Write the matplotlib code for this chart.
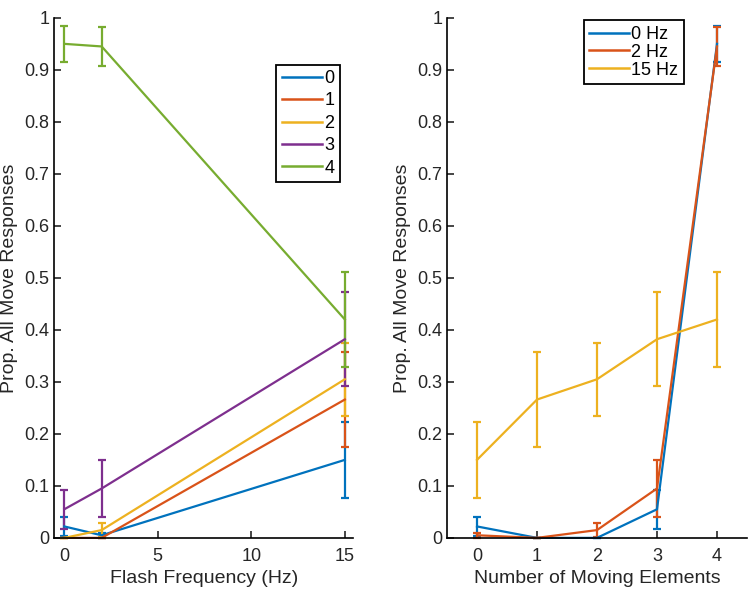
import numpy as np
import matplotlib
matplotlib.use("Agg")
import matplotlib.pyplot as plt
from matplotlib.lines import Line2D

plt.rcParams["font.family"] = ["Liberation Sans", "DejaVu Sans"]

# flash frequencies (Hz) and number of moving elements
freqs = [0, 2, 15]
n_moving = [0, 1, 2, 3, 4]

# proportion of "all move" responses, rows = frequency, cols = moving elements
prop_0hz = [0.022, 0.0, 0.0, 0.055, 0.95]
prop_2hz = [0.005, 0.0, 0.015, 0.095, 0.945]
prop_15hz = [0.15, 0.266, 0.305, 0.382, 0.42]

err_0hz = [0.018, 0.0, 0.0, 0.038, 0.035]
err_2hz = [0.005, 0.0, 0.013, 0.055, 0.037]
err_15hz = [0.073, 0.091, 0.07, 0.09, 0.091]

freq_labels = ["0 Hz", "2 Hz", "15 Hz"]
elem_labels = ["0", "1", "2", "3", "4"]

colors = ["#0072BD", "#D95319", "#EDB120", "#7E2F8E", "#77AC30"]

props = np.array([prop_0hz, prop_2hz, prop_15hz])
errs = np.array([err_0hz, err_2hz, err_15hz])

txt = "#262626"


def matlab_style(ax):
    ax.spines["top"].set_visible(False)
    ax.spines["right"].set_visible(False)
    for s in ("left", "bottom"):
        ax.spines[s].set_linewidth(1.2)
    ax.tick_params(direction="in", length=5, width=1.2, labelsize=13, colors=txt)
    ax.tick_params(axis="x", pad=7)
    ax.set_ylim(0, 1)
    ax.set_yticks(np.arange(0, 1.01, 0.1))
    ax.set_yticklabels(["0"] + ["%.1f" % v for v in np.arange(0.1, 0.95, 0.1)] + ["1"])
    ax.set_ylabel("Prop. All Move Responses", fontsize=14, color=txt)


def add_legend(ax, labels, anchor, loc, spacing):
    handles = [Line2D([], [], color=colors[k], lw=1.8) for k in range(len(labels))]
    leg = ax.legend(handles, labels, loc=loc, bbox_to_anchor=anchor, fontsize=13,
                    fancybox=False, edgecolor="black", framealpha=1,
                    handlelength=2.2, handletextpad=0.15, borderpad=0.3,
                    labelspacing=spacing, borderaxespad=0)
    leg.get_frame().set_linewidth(1.3)


fig = plt.figure(figsize=(7.5, 5.95), dpi=100)
ax1 = fig.add_axes([0.072, 0.096, 0.399, 0.874])
ax2 = fig.add_axes([0.596, 0.096, 0.400, 0.874])

# left: responses vs flash frequency, one line per number of moving elements
for j, lab in enumerate(elem_labels):
    ax1.errorbar(freqs, props[:, j], yerr=errs[:, j], color=colors[j], lw=1.6,
                 elinewidth=1.6, capsize=3, capthick=1.6, clip_on=False)
ax1.set_xlim(-0.55, 15.45)
ax1.set_xticks([0, 5, 10, 15])
ax1.set_xlabel("Flash Frequency (Hz)", fontsize=14, color=txt)
matlab_style(ax1)
add_legend(ax1, elem_labels, (0.955, 0.91), "upper right", 0.3)

# right: responses vs number of moving elements, one line per frequency
for i, lab in enumerate(freq_labels):
    ax2.errorbar(n_moving, props[i], yerr=errs[i], color=colors[i], lw=1.6,
                 elinewidth=1.6, capsize=3, capthick=1.6, clip_on=False)
ax2.set_xlim(-0.5, 4.5)
ax2.set_xticks(n_moving)
ax2.set_xlabel("Number of Moving Elements", fontsize=14, color=txt)
matlab_style(ax2)
add_legend(ax2, freq_labels, (0.455, 0.995), "upper left", 0.05)

fig.savefig("out.png", dpi=100)
